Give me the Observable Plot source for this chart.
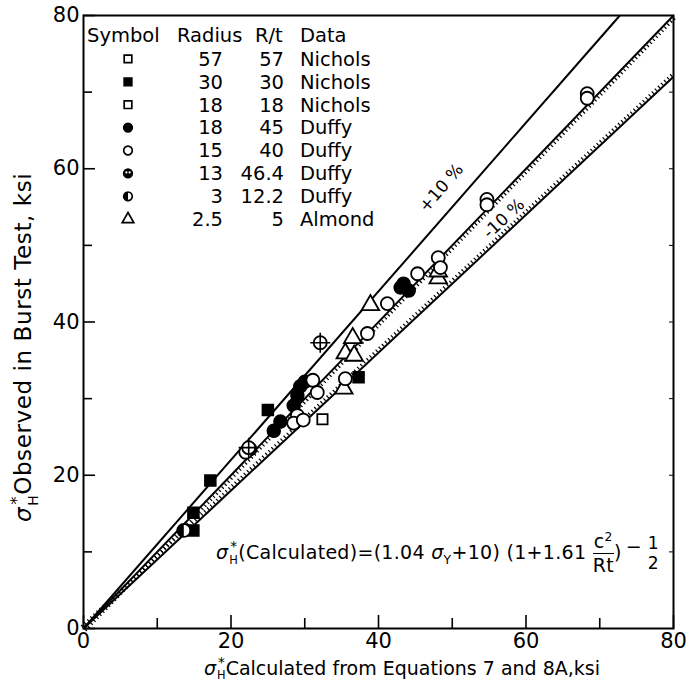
<!DOCTYPE html>
<html><head><meta charset="utf-8">
<script src="https://cdn.jsdelivr.net/npm/d3@7"></script>
<script src="https://cdn.jsdelivr.net/npm/@observablehq/plot@0.6"></script>
<style>
body{margin:0;background:#fff;}
#wrap{position:relative;width:687px;height:689px;font-family:"DejaVu Sans",sans-serif;color:#000;}
.ov{position:absolute;white-space:nowrap;font-family:"DejaVu Sans",sans-serif;font-weight:normal;}
.stk{display:inline-flex;flex-direction:column;vertical-align:middle;text-align:center;}
.stk span{line-height:1.2;}
.frac{display:inline-flex;flex-direction:column;vertical-align:middle;text-align:center;line-height:1.2;}
.frac .num{border-bottom:1.5px solid #000;padding:0 1px;}
</style></head><body><div id="wrap"></div>
<script>
// ---- axis ticks
const majorTicks = [0, 20, 40, 60, 80];
const minorTicks = [10, 30, 50, 70];
// ---- reference lines (observed / calculated ratio)
const bandRatios = [1.1, 1.0, 0.9];
const bandLabels = ["+10 %", "-10 %"];
// ---- legend table
const legendKeys    = ["N57", "N30", "N18", "D18", "D15", "D13", "D3", "A"];
const legendRadius  = ["57", "30", "18", "18", "15", "13", "3", "2.5"];
const legendRt      = ["57", "30", "18", "45", "40", "46.4", "12.2", "5"];
const legendSource  = ["Nichols", "Nichols", "Nichols", "Duffy", "Duffy", "Duffy", "Duffy", "Almond"];
// ---- data (calculated x, observed y), ksi
const nichols57X = [32.4];
const nichols57Y = [27.3];
const nichols30X = [17.2, 14.9, 14.9, 25.0, 37.3];
const nichols30Y = [19.3, 15.1, 12.8, 28.5, 32.8];
const duffy18X = [29.0, 29.4, 28.5, 30.0, 25.8, 26.7, 43.0, 44.1, 43.4, 22.6];
const duffy18Y = [30.4, 31.6, 29.1, 32.2, 25.8, 27.0, 44.5, 44.1, 45.0, 23.4];
const duffy15X = [31.1, 31.7, 29.0, 28.5, 29.8, 22.0, 35.5, 38.5, 41.2, 45.3, 48.1, 48.4, 54.7, 54.7, 68.3, 68.3];
const duffy15Y = [32.4, 30.8, 27.8, 26.8, 27.2, 23.0, 32.6, 38.5, 42.4, 46.3, 48.4, 47.1, 56.0, 55.3, 69.8, 69.2];
const duffy13X = [32.1, 22.4];
const duffy13Y = [37.3, 23.6];
const duffy3X = [13.6];
const duffy3Y = [12.8];
const almondX = [36.5, 35.5, 36.7, 35.3, 38.9, 48.1, 48.1];
const almondY = [37.9, 35.9, 35.6, 31.3, 42.2, 45.7, 46.6];

const rows = (xs, ys) => xs.map((x, i) => ({x, y: ys[i]}));
const openSquares = rows(nichols57X, nichols57Y);
const filledSquares = rows(nichols30X, nichols30Y);
const filledCircles = rows(duffy18X, duffy18Y);
const openCircles = rows(duffy15X, duffy15Y);
const crossCircles = rows(duffy13X, duffy13Y);
const halfCircles = rows(duffy3X, duffy3Y);
const triangles = rows(almondX, almondY);

const lines = bandRatios.map(r => {
  const x2 = Math.min(80, 80 / r);
  return {r, x1: 0, y1: 0, x2, y2: r * x2};
});

const halfDisk = {draw(ctx, size) {
  const rr = Math.sqrt(size / Math.PI);
  ctx.moveTo(0, -rr);
  ctx.arc(0, 0, rr, -Math.PI / 2, Math.PI / 2, true);
  ctx.closePath();
}};

const W = 687, H = 689, mL = 83, mR = 14, mT = 15, mB = 61;
const kx = (W - mL - mR) / 80, ky = (H - mT - mB) / 80;
function perp(r, side, d) {
  const vx = kx, vy = -r * ky, n = Math.hypot(vx, vy);
  const ux = vx / n, uy = vy / n;
  return {dx: side * (-uy) * d, dy: side * (ux) * d};
}
const midOff = perp(1.0, 1, 2.6);
const lowOff = perp(0.9, -1, 2.6);

const font = "DejaVu Sans, sans-serif";
const chart = Plot.plot({
  width: W, height: H,
  marginLeft: mL, marginRight: mR, marginTop: mT, marginBottom: mB,
  style: {fontFamily: font, background: "#fff", overflow: "visible"},
  x: {domain: [0, 80]},
  y: {domain: [0, 80]},
  marks: [
    Plot.frame({stroke: "#000", strokeWidth: 2}),
    Plot.axisX({anchor: "bottom", ticks: majorTicks, tickSize: -13, text: null, strokeWidth: 1.6}),
    Plot.axisX({anchor: "bottom", ticks: minorTicks, tickSize: -10, text: null, strokeWidth: 1.6}),
    Plot.axisX({anchor: "bottom", ticks: majorTicks, tickSize: 0, tickPadding: 5, fontSize: 21, label: null}),
    Plot.axisY({anchor: "left", ticks: majorTicks, tickSize: -12, text: null, strokeWidth: 1.6}),
    Plot.axisY({anchor: "left", ticks: minorTicks, tickSize: -9, text: null, strokeWidth: 1.6}),
    Plot.axisY({anchor: "left", ticks: majorTicks, tickSize: 0, tickPadding: 4, fontSize: 21, label: null}),
    Plot.axisY({anchor: "right", ticks: majorTicks.concat(minorTicks), tickSize: -5, text: null, label: null}),
    Plot.link(lines, {x1: "x1", y1: "y1", x2: "x2", y2: "y2", stroke: "#000", strokeWidth: 2}),
    Plot.link(lines.filter(d => d.r === 1.0), {x1: "x1", y1: "y1", x2: "x2", y2: "y2", stroke: "#000", strokeWidth: 3.2, strokeDasharray: "1.2 3", dx: midOff.dx, dy: midOff.dy}),
    Plot.link(lines.filter(d => d.r === 0.9), {x1: "x1", y1: "y1", x2: "x2", y2: "y2", stroke: "#000", strokeWidth: 3.2, strokeDasharray: "1.2 3", dx: lowOff.dx, dy: lowOff.dy}),
    Plot.dot(filledCircles, {x: "x", y: "y", r: 6.5, fill: "#000", stroke: "#000", symbol: "circle"}),
    Plot.dot(filledSquares, {x: "x", y: "y", r: 6.2, fill: "#000", stroke: "#000", symbol: "square"}),
    Plot.dot(openSquares, {x: "x", y: "y", r: 5.8, fill: "#fff", stroke: "#000", strokeWidth: 1.8, symbol: "square"}),
    Plot.dot(triangles, {x: "x", y: "y", r: 6.5, fill: "#fff", stroke: "#000", strokeWidth: 1.8, symbol: "triangle"}),
    Plot.dot(openCircles, {x: "x", y: "y", r: 6.5, fill: "#fff", stroke: "#000", strokeWidth: 1.8, symbol: "circle"}),
    Plot.dot(crossCircles, {x: "x", y: "y", r: 6.5, fill: "#fff", stroke: "#000", strokeWidth: 1.8, symbol: "circle"}),
    Plot.dot(crossCircles, {x: "x", y: "y", r: 6.5, stroke: "#000", strokeWidth: 1.6, symbol: "plus"}),
    Plot.dot(halfCircles, {x: "x", y: "y", r: 6.5, fill: "#fff", stroke: "#000", strokeWidth: 1.8, symbol: "circle"}),
    Plot.dot(halfCircles, {x: "x", y: "y", r: 6.5, fill: "#000", stroke: "none", symbol: halfDisk}),
    Plot.text([bandLabels[0]], {x: 48.5, y: 57.5, text: d => d, rotate: -49, fontSize: 17, fontFamily: font}),
    Plot.text([bandLabels[1]], {x: 57, y: 53.5, text: d => d, rotate: -43, fontSize: 17, fontFamily: font})
  ]
});
const wrap = document.getElementById("wrap");
wrap.appendChild(chart);

// ---- legend table (drawn with d3 into the svg)
const svg = d3.select(chart);
const lg = svg.append("g").attr("font-family", font).attr("font-size", 19.5).attr("fill", "#000").attr("text-anchor", "start");
const rowH = 22.9, y0 = 35, colSym = 128, colRad = 223, colRt = 284, colData = 300;
lg.append("text").attr("x", 87).attr("y", y0).attr("dy", "0.35em").text("Symbol");
lg.append("text").attr("x", 177).attr("y", y0).attr("dy", "0.35em").text("Radius");
lg.append("text").attr("x", 255).attr("y", y0).attr("dy", "0.35em").text("R/t");
lg.append("text").attr("x", colData).attr("y", y0).attr("dy", "0.35em").text("Data");
const symFor = {
  N57: {t: d3.symbolSquare, fill: "#fff"}, N30: {t: d3.symbolSquare, fill: "#000"}, N18: {t: d3.symbolSquare, fill: "#fff"},
  D18: {t: d3.symbolCircle, fill: "#000"}, D15: {t: d3.symbolCircle, fill: "#fff"}, D13: {t: d3.symbolCircle, fill: "#000"},
  D3: {t: d3.symbolCircle, fill: "#fff", half: true}, A: {t: d3.symbolTriangle, fill: "#fff"}
};
legendKeys.forEach((k, i) => {
  const y = y0 + (i + 1) * rowH + 1;
  const s = symFor[k];
  const size = Math.PI * 4.3 * 4.3;
  lg.append("path").attr("transform", `translate(${colSym},${y})`).attr("d", d3.symbol(s.t, size)())
    .attr("fill", s.fill).attr("stroke", "#000").attr("stroke-width", 1.7);
  if (s.half) lg.append("path").attr("transform", `translate(${colSym},${y})`).attr("d", d3.symbol(halfDisk, size)()).attr("fill", "#000");
  if (k === "D13") {
    lg.append("circle").attr("cx", colSym - 1.6).attr("cy", y - 1).attr("r", 1.1).attr("fill", "#fff");
    lg.append("circle").attr("cx", colSym + 1.6).attr("cy", y - 1).attr("r", 1.1).attr("fill", "#fff");
  }
  lg.append("text").attr("x", colRad).attr("y", y).attr("dy", "0.35em").attr("text-anchor", "end").text(legendRadius[i]);
  lg.append("text").attr("x", colRt).attr("y", y).attr("dy", "0.35em").attr("text-anchor", "end").text(legendRt[i]);
  lg.append("text").attr("x", colData).attr("y", y).attr("dy", "0.35em").text(legendSource[i]);
});

// ---- axis titles and formula (HTML overlays)
function sigmaStar(sub) {
  return `<span style="font-style:italic">σ</span><span class="stk" style="font-size:0.6em;margin-left:1px"><span style="font-size:1.2em;line-height:1.05">*</span><span>${sub}</span></span>`;
}
const xt = document.createElement("div");
xt.className = "ov";
xt.style.cssText = "left:204px;top:655px;font-size:19px;";
xt.innerHTML = sigmaStar("H") + "Calculated from Equations 7 and 8A,ksi";
wrap.appendChild(xt);

const yt = document.createElement("div");
yt.className = "ov";
yt.style.cssText = "left:8px;top:522px;font-size:23px;letter-spacing:0.6px;transform-origin:0 0;transform:rotate(-90deg);";
yt.innerHTML = sigmaStar("H") + "Observed in Burst Test, ksi";
wrap.appendChild(yt);

const fm = document.createElement("div");
fm.className = "ov";
fm.style.cssText = "left:216px;top:530px;font-size:19px;letter-spacing:0.3px;";
fm.innerHTML = sigmaStar("H") + "(Calculated)=(1.04 <span style='font-style:italic'>σ</span><sub style='font-size:0.65em'>Y</sub>+10) (1+1.61 "
  + "<span class='frac'><span class='num'>c<sup style='font-size:0.65em'>2</sup></span><span>Rt</span></span>)"
  + "<span style='vertical-align:0.3em;margin-left:4px'>&minus;</span><span class='stk' style='font-size:0.9em;margin-left:6px'><span>1</span><span>2</span></span>";
wrap.appendChild(fm);
</script></body></html>
